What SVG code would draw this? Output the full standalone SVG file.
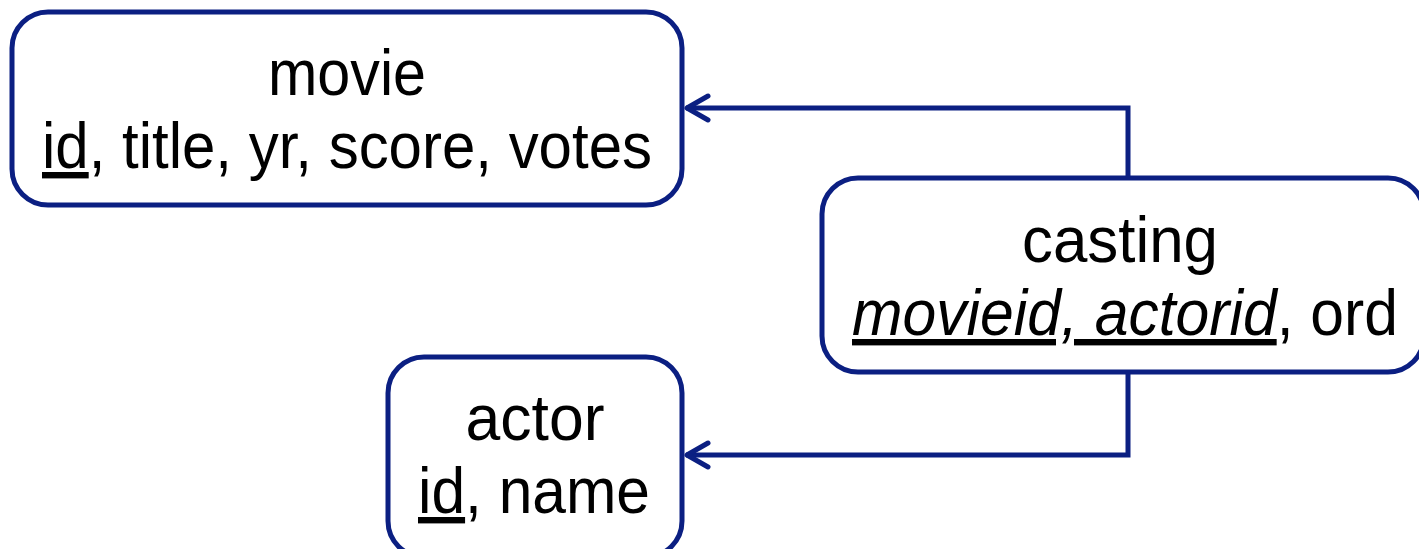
<svg xmlns="http://www.w3.org/2000/svg" width="1419" height="549" viewBox="0 0 1419 549">
<style>
.box{fill:#ffffff;stroke:#0b1f82;stroke-width:5}
.conn{fill:none;stroke:#0b1f82;stroke-width:5}
text{font-family:"Liberation Sans",Arial,sans-serif;font-size:64px;fill:#000000;text-anchor:middle}
.u{text-decoration:underline}
.i{font-style:italic}
</style>
<defs>
<marker id="arr" markerUnits="userSpaceOnUse" markerWidth="40" markerHeight="40" refX="30" refY="20" orient="auto">
<path d="M8,8 L29,20 L8,32" fill="none" stroke="#0b1f82" stroke-width="5" stroke-linecap="round" stroke-linejoin="round"/>
</marker>
</defs>
<rect width="1419" height="549" fill="#ffffff"/>
<g id="movie">
<rect class="box" x="12" y="12" width="670" height="193" rx="36"/>
<text x="347" y="95" textLength="158" lengthAdjust="spacingAndGlyphs">movie</text>
<text x="347" y="168" textLength="610" lengthAdjust="spacingAndGlyphs"><tspan class="u">id</tspan>, title, yr, score, votes</text>
</g>
<g id="casting">
<rect class="box" x="822" y="178" width="602" height="194" rx="36"/>
<text x="1120" y="262" textLength="196" lengthAdjust="spacingAndGlyphs">casting</text>
<text x="1125" y="335" textLength="546" lengthAdjust="spacingAndGlyphs"><tspan class="u i">movieid, actorid</tspan>, ord</text>
</g>
<g id="actor">
<rect class="box" x="388" y="357" width="294" height="200" rx="36"/>
<text x="535" y="440" textLength="139" lengthAdjust="spacingAndGlyphs">actor</text>
<text x="534" y="513" textLength="232" lengthAdjust="spacingAndGlyphs"><tspan class="u">id</tspan>, name</text>
</g>
<g id="connectors">
<path class="conn" d="M1128,178 V108 H686" marker-end="url(#arr)"/>
<path class="conn" d="M1128,372 V455 H686" marker-end="url(#arr)"/>
</g>
</svg>
